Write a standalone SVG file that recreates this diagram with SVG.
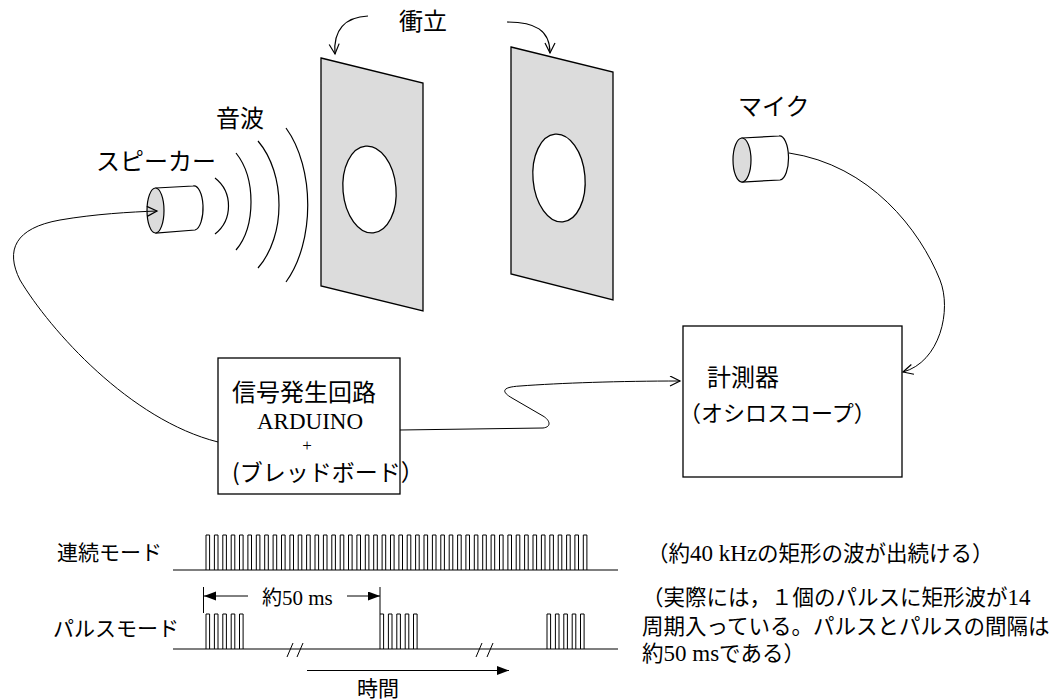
<svg xmlns="http://www.w3.org/2000/svg" width="1054" height="700" viewBox="0 0 1054 700">
  <style>
    .ln { fill: none; stroke: #000; stroke-width: 1.2; }
    .thin { fill: none; stroke: #000; stroke-width: 1; }
    .panel { fill: #dcdcdc; stroke: #000; stroke-width: 1.3; }
    .hole { fill: #fff; stroke: #000; stroke-width: 1.3; }
    .face { fill: #dcdcdc; stroke: #000; stroke-width: 1.2; }
    .body { fill: #fff; stroke: #000; stroke-width: 1.2; }
    .box { fill: #fff; stroke: #000; stroke-width: 1.3; }
    .jp { font-family: "Noto Sans CJK JP", "Noto Sans", sans-serif; fill: #000; }
    .se { font-family: "Liberation Serif", "Noto Sans CJK JP", serif; fill: #000; }
  </style>
  <defs>
    <marker id="open" markerUnits="userSpaceOnUse" markerWidth="14" markerHeight="12" refX="11" refY="5.5" orient="auto">
      <path d="M1,0.5 L11,5.5 L1,10.5" fill="none" stroke="#000" stroke-width="1.2"/>
    </marker>
    <marker id="solid" markerUnits="userSpaceOnUse" markerWidth="14" markerHeight="10" refX="12" refY="4.5" orient="auto">
      <path d="M0,0 L12,4.5 L0,9 Z" fill="#000"/>
    </marker>
  </defs>
  <rect width="1054" height="700" fill="#fff"/>

  <!-- partition panels -->
  <g id="panel-left">
    <polygon class="panel" points="321,58 423,83 423,311 321,286"/>
    <ellipse class="hole" cx="369.5" cy="189.5" rx="26.5" ry="43.5" transform="rotate(-5 369.5 189.5)"/>
  </g>
  <g id="panel-right">
    <polygon class="panel" points="511,47 613,72 613,300 511,274"/>
    <ellipse class="hole" cx="559" cy="178" rx="26" ry="44" transform="rotate(-5 559 178)"/>
  </g>
  <g id="panel-label">
    <text class="jp" x="399" y="30" font-size="24">衝立</text>
  </g>

  <!-- speaker -->
  <g id="speaker">
    <path class="body" d="M156,188 L193,186 A9,22 0 0 1 195,230 L156,233 Z"/>
    <ellipse class="face" cx="155.5" cy="210.5" rx="8.5" ry="22.5"/>
    <text class="jp" x="96" y="170" font-size="24">スピーカー</text>
  </g>

  <!-- sound waves -->
  <g id="sound-waves">
    <path class="ln" d="M215,178 C233,192 233,220 215,234"/>
    <path class="ln" d="M236,153 C256,178 256,226 236,250"/>
    <path class="ln" d="M258,141 C286,174 286,236 258,268"/>
    <path class="ln" d="M286,128 C315,168 315,242 286,282"/>
    <text class="jp" x="216" y="127" font-size="24">音波</text>
  </g>

  <!-- microphone -->
  <g id="microphone">
    <path class="body" d="M742,138 L779,136 A9,22 0 0 1 780,180 L742,182 Z"/>
    <ellipse class="face" cx="742" cy="160" rx="9" ry="22"/>
    <text class="jp" x="738" y="115" font-size="24">マイク</text>
  </g>

  <!-- signal generator -->
  <g id="signal-generator">
    <rect class="box" x="218" y="358" width="182" height="136"/>
    <text class="jp" x="232" y="401" font-size="24">信号発生回路</text>
    <text class="se" x="257" y="429" font-size="23">ARDUINO</text>
    <text class="se" x="307" y="451" font-size="17" text-anchor="middle">+</text>
    <text class="jp" x="232" y="481" font-size="23">(ブレッドボード）</text>
  </g>

  <!-- measuring instrument -->
  <g id="oscilloscope">
    <rect class="box" x="683" y="326" width="219" height="151"/>
    <text class="jp" x="707" y="386" font-size="24">計測器</text>
    <text class="jp" x="679" y="421" font-size="22">（オシロスコープ）</text>
  </g>

  <!-- connectors -->
  <g id="connectors">
    <path class="ln" d="M368,16 C345,17 333,30 335,54" marker-end="url(#open)"/>
    <path class="ln" d="M507,22 C535,22 550,30 550,53" marker-end="url(#open)"/>
    <path class="thin" d="M218,442 C130,420 50,330 20,280 C5,250 15,228 60,220 C95,214 130,212 157,211" marker-end="url(#open)"/>
    <path class="thin" d="M789,153 C870,165 920,230 940,280 C952,310 940,362 903,372" marker-end="url(#open)"/>
    <path class="thin" d="M400,430 L543,428 C552,427 550,420 543,416 L512,398 C500,391 503,387 520,386 C560,383 620,381 680,381" marker-end="url(#open)"/>
  </g>

  <!-- timing chart: continuous mode -->
  <g id="continuous-mode">
    <text class="jp" x="57" y="560" font-size="21">連続モード</text>
    <line class="ln" x1="173" y1="570" x2="618" y2="570"/>
    <path class="thin" d="M206,570V535h3.6V570 M214.4,570V535h3.6V570 M222.8,570V535h3.6V570 M231.2,570V535h3.6V570 M239.5,570V535h3.6V570 M247.9,570V535h3.6V570 M256.3,570V535h3.6V570 M264.7,570V535h3.6V570 M273.1,570V535h3.6V570 M281.5,570V535h3.6V570 M289.9,570V535h3.6V570 M298.2,570V535h3.6V570 M306.6,570V535h3.6V570 M315,570V535h3.6V570 M323.4,570V535h3.6V570 M331.8,570V535h3.6V570 M340.2,570V535h3.6V570 M348.5,570V535h3.6V570 M356.9,570V535h3.6V570 M365.3,570V535h3.6V570 M373.7,570V535h3.6V570 M382.1,570V535h3.6V570 M390.5,570V535h3.6V570 M398.9,570V535h3.6V570 M407.2,570V535h3.6V570 M415.6,570V535h3.6V570 M424,570V535h3.6V570 M432.4,570V535h3.6V570 M440.8,570V535h3.6V570 M449.2,570V535h3.6V570 M457.6,570V535h3.6V570 M465.9,570V535h3.6V570 M474.3,570V535h3.6V570 M482.7,570V535h3.6V570 M491.1,570V535h3.6V570 M499.5,570V535h3.6V570 M507.9,570V535h3.6V570 M516.2,570V535h3.6V570 M524.6,570V535h3.6V570 M533,570V535h3.6V570 M541.4,570V535h3.6V570 M549.8,570V535h3.6V570 M558.2,570V535h3.6V570 M566.6,570V535h3.6V570 M574.9,570V535h3.6V570 M583.3,570V535h3.6V570"/>
  </g>

  <!-- timing chart: pulse mode -->
  <g id="pulse-mode">
    <text class="jp" x="53" y="636" font-size="21">パルスモード</text>
    <line class="ln" x1="173" y1="649" x2="618" y2="649"/>
    <path class="thin" d="M206,649V614h3.6V649 M214.4,649V614h3.6V649 M222.8,649V614h3.6V649 M231.2,649V614h3.6V649 M239.5,649V614h3.6V649"/>
    <path class="thin" d="M380,649V614h3.6V649 M388.4,649V614h3.6V649 M396.8,649V614h3.6V649 M405.2,649V614h3.6V649 M413.5,649V614h3.6V649"/>
    <path class="thin" d="M547,649V614h3.6V649 M555.4,649V614h3.6V649 M563.8,649V614h3.6V649 M572.2,649V614h3.6V649 M580.5,649V614h3.6V649"/>
    <path class="thin" d="M287,657 L293,643 M297,657 L303,643 M476,657 L482,643 M487,657 L493,643"/>
  </g>

  <!-- interval and time annotations -->
  <g id="interval">
    <line class="thin" x1="203.5" y1="587" x2="203.5" y2="613"/>
    <line class="thin" x1="380" y1="587" x2="380" y2="614"/>
    <line class="thin" x1="248" y1="596" x2="204" y2="596" marker-end="url(#solid)"/>
    <line class="thin" x1="347" y1="596" x2="380" y2="596" marker-end="url(#solid)"/>
    <text x="262" y="605" font-size="20"><tspan class="jp">約</tspan><tspan class="se" font-size="21">50 ms</tspan></text>
  </g>
  <g id="time-axis">
    <line class="thin" x1="307" y1="670.5" x2="509" y2="670.5" marker-end="url(#solid)"/>
    <text class="jp" x="357" y="696" font-size="21">時間</text>
  </g>

  <!-- notes -->
  <g id="notes" font-size="21.5">
    <text x="647" y="561"><tspan class="jp">（約</tspan><tspan class="se" font-size="23">40 kHz</tspan><tspan class="jp">の矩形の波が出続ける）</tspan></text>
    <text x="642" y="605"><tspan class="jp">（実際には，１個のパルスに矩形波が</tspan><tspan class="se" font-size="23">14</tspan></text>
    <text class="jp" x="642" y="634">周期入っている。パルスとパルスの間隔は</text>
    <text x="642" y="661"><tspan class="jp">約</tspan><tspan class="se" font-size="23">50 ms</tspan><tspan class="jp">である）</tspan></text>
  </g>
</svg>
